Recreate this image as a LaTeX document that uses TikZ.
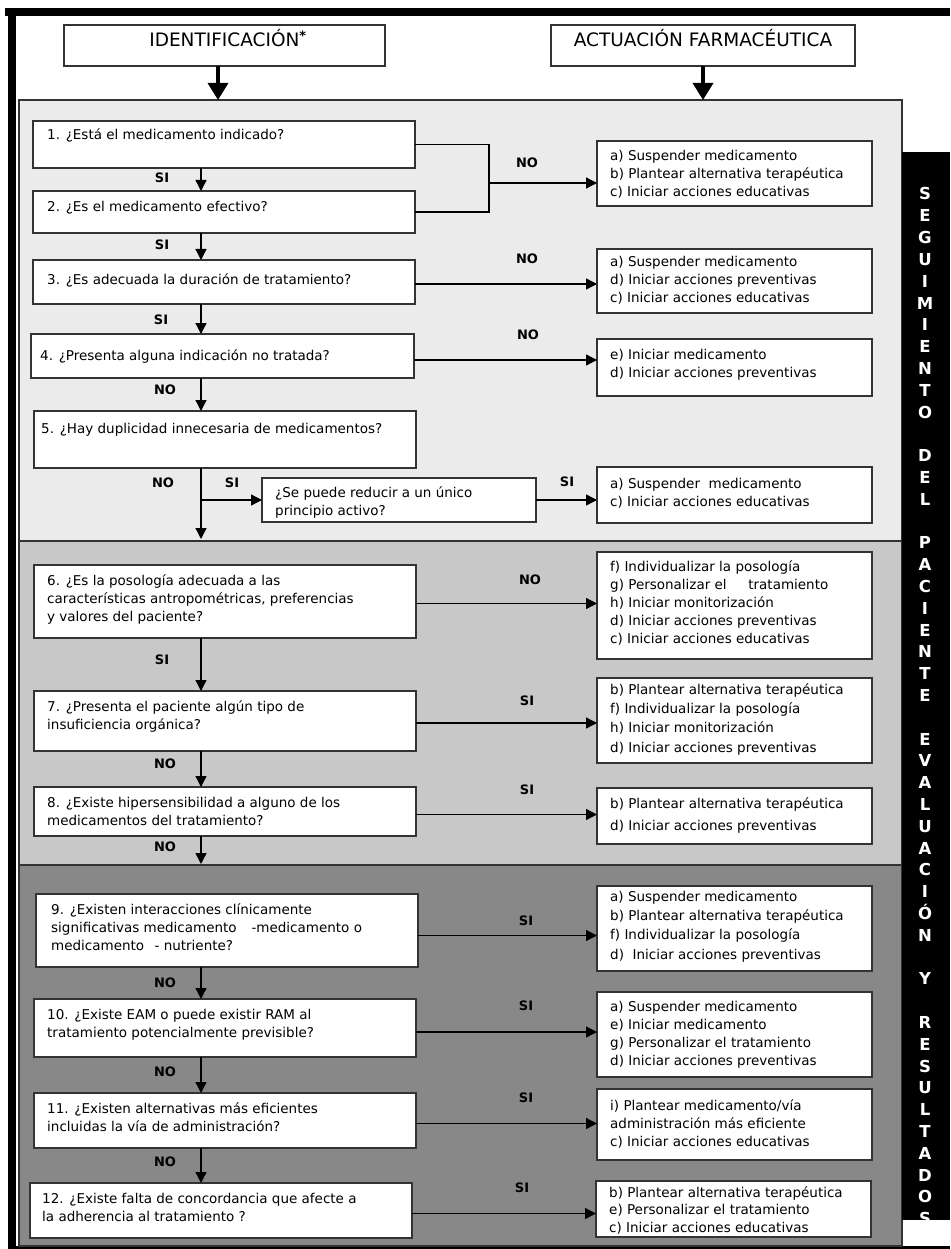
\documentclass[tikz,border=0pt]{standalone}
\usepackage{fontspec}
\setmainfont{DejaVu Sans}
\usetikzlibrary{arrows.meta}
\definecolor{panelA}{HTML}{EBEBEB}
\definecolor{panelB}{HTML}{C8C8C8}
\definecolor{panelC}{HTML}{888888}
\definecolor{edge}{HTML}{333333}

\begin{document}
\begin{tikzpicture}[x=1pt,y=-1pt,
  box/.style={draw=edge, line width=1.4pt, fill=white, anchor=north west, inner sep=0pt, outer sep=0pt},
  panel/.style={draw=edge, line width=1.4pt, anchor=north west, inner sep=0pt, outer sep=0pt},
  % text blocks are placed by the baseline of their last line
  txt/.style={anchor=base west, inner sep=0pt, align=left, font=\fontsize{13.5}{18}\selectfont},
  head/.style={anchor=base, inner sep=0pt, font=\fontsize{18.5}{20}\selectfont},
  lbl/.style={inner sep=0pt, text height=9.5pt, text depth=0pt, font=\fontsize{13}{15}\selectfont\bfseries},
  arr/.style={line width=1.3pt, -{Triangle[length=11pt,width=11pt]}},
  link/.style={line width=1.3pt},
  bigarr/.style={line width=3.5pt, -{Triangle[length=17pt,width=20pt]}},
  side/.style={text=white, inner sep=0pt, text height=12pt, text depth=0pt, font=\fontsize{16.5}{17}\selectfont\bfseries}
]
\useasboundingbox (0,0) rectangle (950,1249);
\fill[white] (0,0) rectangle (950,1249);

% outer frame
\fill (5,8) rectangle (950,16);
\fill (8,8) rectangle (16,1249);
\fill (8,1246) rectangle (950,1249);

% header boxes
\node[box, minimum width=321pt, minimum height=41pt] (hid) at (64,25) {};
\node[head] (hidt) at (228,47) {IDENTIFICACIÓN\textsuperscript{\bfseries *}};
\node[box, minimum width=304pt, minimum height=41pt] (hact) at (551,25) {};
\node[head] (hactt) at (703,47) {ACTUACIÓN FARMACÉUTICA};

% shaded bands
\node[panel, fill=panelA, minimum width=883pt, minimum height=441pt] (p1) at (19,100) {};
\node[panel, fill=panelB, minimum width=883pt, minimum height=324pt] (p2) at (19,541) {};
\node[panel, fill=panelC, minimum width=883pt, minimum height=381pt] (p3) at (19,865) {};

% header arrows
\coordinate (hx) at (218,0);
\coordinate (ax2) at (703,0);
\draw[bigarr] (hid.south -| hx) -- (p1.north -| hx);
\draw[bigarr] (hact.south -| ax2) -- (p1.north -| ax2);

% vertical side bar
\node[fill=black, anchor=north west, inner sep=0pt, outer sep=0pt, minimum width=48pt, minimum height=1068pt] (bar) at (902,152) {};
\begin{scope}
  \clip (bar.north west) rectangle (bar.south east);
  \foreach \ch [count=\i from 0] in {S,E,G,U,I,M,I,E,N,T,O}
    \node[side] (s\i) at (925,{194+21.8*\i}) {\ch};
  \foreach \ch [count=\i from 12] in {D,E,L}
    \node[side] (s\i) at (925,{194+21.8*\i}) {\ch};
  \foreach \ch [count=\i from 16] in {P,A,C,I,E,N,T,E}
    \node[side] (s\i) at (925,{194+21.8*\i}) {\ch};
  \foreach \ch [count=\i from 25] in {E,V,A,L,U,A,C,I,Ó,N}
    \node[side] (s\i) at (925,{194+21.8*\i}) {\ch};
  \node[side] (s36) at (925,{194+21.8*36}) {Y};
  \foreach \ch [count=\i from 38] in {R,E,S,U,L,T,A,D,O,S}
    \node[side] (s\i) at (925,{194+21.8*\i}) {\ch};
\end{scope}

% question boxes
\node[box, minimum width=382pt, minimum height=47pt] (q1) at (33,121) {};
\node[txt] (q1t) at (47,140) {1. ¿Está el medicamento indicado?};
\node[box, minimum width=382pt, minimum height=42pt] (q2) at (33,191) {};
\node[txt] (q2t) at (47,212) {2. ¿Es el medicamento efectivo?};
\node[box, minimum width=382pt, minimum height=44pt] (q3) at (33,260) {};
\node[txt] (q3t) at (47,284) {3. ¿Es adecuada la duración de tratamiento?};
\node[box, minimum width=383pt, minimum height=44pt] (q4) at (31,334) {};
\node[txt] (q4t) at (40,360) {4. ¿Presenta alguna indicación no tratada?};
\node[box, minimum width=382pt, minimum height=57pt] (q5) at (34,411) {};
\node[txt] (q5t) at (41,433) {5. ¿Hay duplicidad innecesaria de medicamentos?};
\node[box, minimum width=274pt, minimum height=44pt] (qr) at (262,478) {};
\node[txt] (qrt) at (275,515) {¿Se puede reducir a un único\\principio activo?};

\node[box, minimum width=382pt, minimum height=73pt] (q6) at (34,565) {};
\node[txt] (q6t) at (47,621) {6. ¿Es la posología adecuada a las\\características antropométricas, preferencias\\y valores del paciente?};
\node[box, minimum width=382pt, minimum height=60pt] (q7) at (34,691) {};
\node[txt] (q7t) at (47,729) {7. ¿Presenta el paciente algún tipo de\\insuficiencia orgánica?};
\node[box, minimum width=382pt, minimum height=49pt] (q8) at (34,787) {};
\node[txt] (q8t) at (47,825) {8. ¿Existe hipersensibilidad a alguno de los\\medicamentos del tratamiento?};

\node[box, minimum width=382pt, minimum height=73pt] (q9) at (36,894) {};
\node[txt] (q9t) at (51,950) {9. ¿Existen interacciones clínicamente\\significativas medicamento\hspace{1.1em}-medicamento o\\medicamento\hspace{0.45em} - nutriente?};
\node[box, minimum width=382pt, minimum height=58pt] (q10) at (34,999) {};
\node[txt] (q10t) at (47,1037) {10. ¿Existe EAM o puede existir RAM al\\tratamiento potencialmente previsible?};
\node[box, minimum width=382pt, minimum height=55pt] (q11) at (34,1093) {};
\node[txt] (q11t) at (47,1131) {11. ¿Existen alternativas más eficientes\\incluidas la vía de administración?};
\node[box, minimum width=382pt, minimum height=55pt] (q12) at (30,1183) {};
\node[txt] (q12t) at (42,1221) {12. ¿Existe falta de concordancia que afecte a\\la adherencia al tratamiento ?};

% action boxes
\node[box, minimum width=275pt, minimum height=65pt] (r1) at (597,141) {};
\node[txt] (r1t) at (610,197) {a) Suspender medicamento\\b) Plantear alternativa terapéutica\\c) Iniciar acciones educativas};
\node[box, minimum width=275pt, minimum height=64pt] (r2) at (597,249) {};
\node[txt] (r2t) at (610,302) {a) Suspender medicamento\\d) Iniciar acciones preventivas\\c) Iniciar acciones educativas};
\node[box, minimum width=275pt, minimum height=57pt] (r3) at (597,339) {};
\node[txt] (r3t) at (610,377) {e) Iniciar medicamento\\d) Iniciar acciones preventivas};
\node[box, minimum width=275pt, minimum height=56pt] (r4) at (597,467) {};
\node[txt] (r4t) at (610,506) {a) Suspender\ \ medicamento\\c) Iniciar acciones educativas};

\node[box, minimum width=275pt, minimum height=107pt] (r5) at (597,552) {};
\node[txt] (r5t) at (610,643) {f) Individualizar la posología\\g) Personalizar el\hspace{1.6em}tratamiento\\h) Iniciar monitorización\\d) Iniciar acciones preventivas\\c) Iniciar acciones educativas};
\node[box, minimum width=275pt, minimum height=85pt] (r6) at (597,678) {};
\node[txt, font=\fontsize{13.5}{19.2}\selectfont] (r6t) at (610,752) {b) Plantear alternativa terapéutica\\f) Individualizar la posología\\h) Iniciar monitorización\\d) Iniciar acciones preventivas};
\node[box, minimum width=275pt, minimum height=56pt] (r7) at (597,788) {};
\node[txt, font=\fontsize{13.5}{22}\selectfont] (r7t) at (610,830) {b) Plantear alternativa terapéutica\\d) Iniciar acciones preventivas};

\node[box, minimum width=275pt, minimum height=85pt] (r8) at (597,886) {};
\node[txt, font=\fontsize{13.5}{19.3}\selectfont] (r8t) at (610,959) {a) Suspender medicamento\\b) Plantear alternativa terapéutica\\f) Individualizar la posología\\d)\ \ Iniciar acciones preventivas};
\node[box, minimum width=275pt, minimum height=85pt] (r9) at (597,992) {};
\node[txt, font=\fontsize{13.5}{17.7}\selectfont] (r9t) at (610,1065) {a) Suspender medicamento\\e) Iniciar medicamento\\g) Personalizar el tratamiento\\d) Iniciar acciones preventivas};
\node[box, minimum width=275pt, minimum height=71pt] (r10) at (597,1089) {};
\node[txt] (r10t) at (610,1146) {i) Plantear medicamento/vía\\administración más eficiente\\c) Iniciar acciones educativas};
\node[box, minimum width=275pt, minimum height=56pt] (r11) at (596,1181) {};
\node[txt, font=\fontsize{13.5}{17.5}\selectfont] (r11t) at (609,1232) {b) Plantear alternativa terapéutica\\e) Personalizar el tratamiento\\c) Iniciar acciones educativas};

% downward flow
\coordinate (ax) at (201,0);
\draw[arr] (q1.south -| ax) -- (q2.north -| ax);
\draw[arr] (q2.south -| ax) -- (q3.north -| ax);
\draw[arr] (q3.south -| ax) -- (q4.north -| ax);
\draw[arr] (q4.south -| ax) -- (q5.north -| ax);
\draw[arr, shorten >=2pt] (q5.south -| ax) -- (p2.north -| ax);
\coordinate (br) at (201,500);
\draw[arr] (br) -- (br -| qr.west);
\draw[arr] (q6.south -| ax) -- (q7.north -| ax);
\draw[arr] (q7.south -| ax) -- (q8.north -| ax);
\draw[arr, shorten >=1pt] (q8.south -| ax) -- (p3.north -| ax);
\draw[arr] (q9.south -| ax) -- (q10.north -| ax);
\draw[arr] (q10.south -| ax) -- (q11.north -| ax);
\draw[arr] (q11.south -| ax) -- (q12.north -| ax);

% branches to the actions
\coordinate (j1) at (489,183);
\draw[link] (q1.east) -| (j1) |- (q2.east);
\draw[arr] (j1) -- (j1 -| r1.west);
\draw[arr] ([yshift=-2pt]q3.east) -- ([yshift=-2pt]q3.east -| r2.west);
\draw[arr] ([yshift=-4pt]q4.east) -- ([yshift=-4pt]q4.east -| r3.west);
\draw[arr] (qr.east) -- (qr.east -| r4.west);
\draw[arr] ([yshift=-2pt]q6.east) -- ([yshift=-2pt]q6.east -| r5.west);
\draw[arr] ([yshift=-2pt]q7.east) -- ([yshift=-2pt]q7.east -| r6.west);
\draw[arr] ([yshift=-3pt]q8.east) -- ([yshift=-3pt]q8.east -| r7.west);
\draw[arr] ([yshift=-5pt]q9.east) -- ([yshift=-5pt]q9.east -| r8.west);
\draw[arr] ([yshift=-4pt]q10.east) -- ([yshift=-4pt]q10.east -| r9.west);
\draw[arr] ([yshift=-3pt]q11.east) -- ([yshift=-3pt]q11.east -| r10.west);
\draw[arr] ([yshift=-3pt]q12.east) -- ([yshift=-3pt]q12.east -| r11.west);

% answer labels
\node[lbl] (a1) at (162,178) {SI};
\node[lbl] (a2) at (162,245) {SI};
\node[lbl] (a3) at (161,320) {SI};
\node[lbl] (a4) at (165,390) {NO};
\node[lbl] (a5) at (163,483) {NO};
\node[lbl] (a6) at (232,483) {SI};
\node[lbl] (b1) at (527,163) {NO};
\node[lbl] (b2) at (527,259) {NO};
\node[lbl] (b3) at (528,335) {NO};
\node[lbl] (b4) at (567,482) {SI};
\node[lbl] (a7) at (162,660) {SI};
\node[lbl] (a8) at (165,764) {NO};
\node[lbl] (a9) at (165,847) {NO};
\node[lbl] (b5) at (530,580) {NO};
\node[lbl] (b6) at (527,701) {SI};
\node[lbl] (b7) at (527,790) {SI};
\node[lbl] (a10) at (165,983) {NO};
\node[lbl] (a11) at (165,1072) {NO};
\node[lbl] (a12) at (165,1162) {NO};
\node[lbl] (b8) at (526,921) {SI};
\node[lbl] (b9) at (526,1006) {SI};
\node[lbl] (b10) at (526,1098) {SI};
\node[lbl] (b11) at (522,1188) {SI};
\end{tikzpicture}
\end{document}
